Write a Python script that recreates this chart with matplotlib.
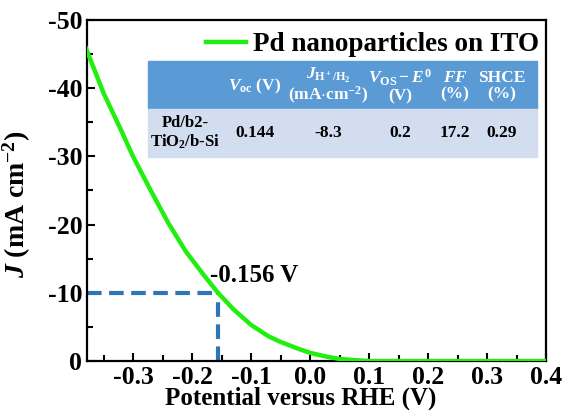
import matplotlib.pyplot as plt
from matplotlib.patches import Rectangle
from matplotlib.ticker import MultipleLocator

plt.rcParams['font.family'] = ['Liberation Serif', 'DejaVu Serif']
plt.rcParams['font.weight'] = 'bold'
plt.rcParams['mathtext.fontset'] = 'custom'
plt.rcParams['mathtext.rm'] = 'Liberation Serif:bold'
plt.rcParams['mathtext.it'] = 'Liberation Serif:bold:italic'
plt.rcParams['mathtext.bf'] = 'Liberation Serif:bold'

# J-V curve
potential = [-0.38, -0.35, -0.32, -0.30, -0.27, -0.24, -0.21, -0.18, -0.156, -0.13,
             -0.10, -0.07, -0.05, -0.02, 0.0, 0.03, 0.05, 0.08, 0.10, 0.20, 0.30, 0.40]
current = [-45.9, -39.3, -33.8, -30.0, -25.0, -20.2, -16.0, -12.6, -10.0, -7.6,
           -5.3, -3.6, -2.8, -1.8, -1.2, -0.6, -0.3, -0.1, 0.0, 0.0, 0.0, 0.0]

# marked point
onset_v = -0.156
onset_j = -10

# table
col_heads = [r"$V_{\mathrm{oc}}$ (V)", r"$J_{\mathrm{H^+/H_2}}$" + "\n" + r"(mA$\cdot$cm$^{-2}$)",
             r"$V_{\mathrm{OS}} - E^0$" + "\n(V)", "$FF$\n(%)", "SHCE\n(%)"]
row_label = "Pd/b2-\nTiO$_2$/b-Si"
row_values = ["0.144", "-8.3", "0.2", "17.2", "0.29"]

W, H = 564, 411
fig = plt.figure(figsize=(W / 100, H / 100), dpi=100)
ax = fig.add_axes([87 / W, 1 - 361 / H, (546 - 87) / W, (361 - 20) / H])

ax.plot(potential, current, color='#22ee11', lw=3.2, label='Pd nanoparticles on ITO', zorder=3)
ax.plot([-0.378, onset_v], [onset_j, onset_j], ls=(0, (3.5, 1.8)), color='#2e75b6', lw=3, zorder=2)
ax.plot([onset_v, onset_v], [0, onset_j], ls=(0, (3.5, 1.8)), color='#2e75b6', lw=3, zorder=2)
ax.text(onset_v - 0.013, onset_j - 2.5, "-0.156 V", fontsize=18, fontweight='bold', va='center')

ax.set_xlim(-0.378, 0.4)
ax.set_ylim(0, -50)
ax.xaxis.set_major_locator(MultipleLocator(0.1))
ax.xaxis.set_minor_locator(MultipleLocator(0.05))
ax.yaxis.set_major_locator(MultipleLocator(10))
ax.yaxis.set_minor_locator(MultipleLocator(5))
ax.tick_params(which='both', direction='in', width=1.5, labelsize=18.5, top=False, right=False)
ax.tick_params(which='major', length=6)
ax.tick_params(which='minor', length=4)
ax.set_xticks([-0.3, -0.2, -0.1, 0.0, 0.1, 0.2, 0.3, 0.4])
ax.set_xticklabels(["-0.3", "-0.2", "-0.1", "0.0", "0.1", "0.2", "0.3", "0.4"])
ax.set_yticks([0, -10, -20, -30, -40, -50])
ax.set_yticklabels(["0", "-10", "-20", "-30", "-40", "-50"])
for s in ax.spines.values():
    s.set_linewidth(1.6)
ax.set_xlabel("Potential versus RHE (V)", fontsize=18, fontweight='bold')
ax.xaxis.set_label_coords(0.466, -0.075)
ax.set_ylabel(r"$J$ (mA cm$^{-2}$)", fontsize=20, fontweight='bold')
ax.yaxis.set_label_coords(-0.117, 0.46)

leg = ax.legend(loc='upper right', bbox_to_anchor=(1.038, 1.035), frameon=False,
                fontsize=19.5, handlelength=1.5, handletextpad=0.25)

def fx(x):
    return x / W

def fy(y):
    return 1 - y / H

fig.patches.append(Rectangle((fx(148), fy(109)), (537 - 148) / W, 48 / H,
                             transform=fig.transFigure, color='#5b9bd5', zorder=5))
fig.patches.append(Rectangle((fx(148), fy(157)), (537 - 148) / W, 48 / H,
                             transform=fig.transFigure, color='#d2ddef', zorder=5))

col_x = [255, 328, 400, 455, 502]
for x, t in zip(col_x, col_heads):
    fig.text(fx(x), fy(86), t, color='white', fontsize=12.5, ha='center', va='center',
             linespacing=1.0, zorder=6)
fig.text(fx(185), fy(133), row_label, fontsize=12, ha='center', va='center',
         linespacing=1.1, zorder=6)
for x, t in zip(col_x, row_values):
    fig.text(fx(x), fy(133), t, fontsize=12.5, ha='center', va='center', zorder=6)

fig.savefig('out.png', dpi=100)
